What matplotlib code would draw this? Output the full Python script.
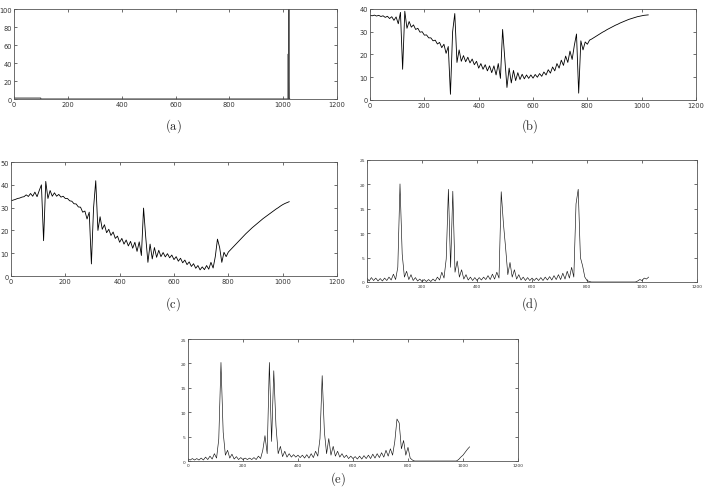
import numpy as np
import matplotlib
matplotlib.use('Agg')
import matplotlib.pyplot as plt

plt.rcParams['mathtext.fontset'] = 'cm'

# sample positions shared by the four signal panels (every 8th sample)
sample_x = np.arange(0, 1025, 8)

# (a) window + two spikes near the end
a_x = [0, 99, 100, 1018, 1019, 1020, 1021, 1022, 1023, 1024]
a_y = [1, 1, 0, 0, 50, 0, 100, 0, 0, 0]

# (b) values, one row = 64 samples
b_vals = [37.2, 37.0, 37.3, 36.9, 37.2, 36.7, 37.0, 36.3,
          36.8, 35.8, 36.6, 35.0, 36.5, 33.5, 38.5, 13.5,
          39.0, 31.5, 34.5, 32.0, 33.0, 31.0, 31.5, 29.8,
          30.0, 28.5, 28.6, 27.3, 27.3, 26.0, 26.3, 24.6,
          25.3, 23.0, 24.5, 20.5, 23.5, 2.5, 30.0, 38.0,
          16.5, 22.0, 17.0, 19.5, 16.8, 18.8, 16.3, 18.0,
          15.5, 17.0, 14.0, 16.0, 13.5, 15.5, 12.8, 15.0,
          12.0, 15.0, 11.0, 16.0, 9.5, 31.0, 18.0, 5.5,
          14.0, 7.5, 13.0, 8.5, 12.0, 9.0, 11.3, 9.3,
          11.0, 9.5, 11.0, 9.6, 11.2, 10.0, 11.6, 10.4,
          12.3, 11.0, 13.3, 11.8, 14.5, 12.8, 16.0, 14.0,
          17.5, 15.2, 19.3, 16.5, 21.5, 17.8, 24.0, 29.0,
          3.0, 26.0, 22.0, 25.5, 24.5, 26.3, 26.8, 27.4,
          28.0, 28.6, 29.2, 29.8, 30.3, 30.9, 31.4, 31.9,
          32.4, 32.9, 33.3, 33.8, 34.2, 34.6, 35.0, 35.4,
          35.7, 36.0, 36.3, 36.6, 36.8, 37.0, 37.2, 37.3,
          37.4]

# (c)
c_vals = [33.0, 33.3, 33.6, 34.0, 34.2, 34.6, 34.8, 35.6,
          34.9, 36.2, 35.0, 36.8, 34.8, 37.5, 40.0, 15.5,
          41.5, 34.0, 37.5, 35.0, 36.5, 35.0, 35.8, 34.6,
          35.0, 34.0, 34.0, 33.0, 32.8, 31.7, 31.6, 30.3,
          30.2, 28.0, 28.5, 25.0, 28.0, 5.3, 30.0, 41.8,
          20.0, 26.0, 20.5, 22.5, 19.0, 20.5, 17.8, 19.3,
          16.5, 17.5, 14.8, 16.5, 14.0, 15.8, 13.2, 15.2,
          12.2, 14.8, 10.8, 15.0, 9.0, 29.8, 17.0, 6.0,
          14.0, 7.5, 12.5, 8.2, 11.3, 8.5, 10.3, 8.4,
          9.8, 8.0, 9.2, 7.2, 8.5, 6.5, 7.8, 5.8,
          7.0, 5.0, 6.2, 4.2, 5.4, 3.4, 4.6, 2.7,
          4.0, 2.8, 4.6, 3.0, 6.0, 3.5, 8.5, 16.2,
          12.5, 6.0, 10.4, 8.5, 10.5, 11.5, 12.5, 13.5,
          14.5, 15.5, 16.5, 17.5, 18.5, 19.4, 20.3, 21.2,
          22.0, 22.8, 23.6, 24.4, 25.2, 25.9, 26.6, 27.3,
          28.0, 28.7, 29.4, 30.0, 30.7, 31.3, 31.8, 32.2,
          32.6]

# (d)
d_vals = [0.8, 0.2, 0.9, 0.3, 0.8, 0.2, 0.7, 0.2,
          0.8, 0.3, 1.0, 0.4, 1.6, 0.5, 3.0, 20.1,
          5.7, 1.0, 2.2, 0.5, 1.5, 0.3, 0.9, 0.2,
          0.6, 0.1, 0.5, 0.1, 0.5, 0.1, 0.6, 0.2,
          1.0, 0.4, 2.0, 0.8, 4.7, 19.0, 3.0, 18.6,
          2.0, 4.3, 1.0, 2.5, 0.6, 1.5, 0.4, 1.0,
          0.3, 0.9, 0.3, 0.9, 0.4, 1.0, 0.5, 1.3,
          0.5, 1.6, 0.6, 2.0, 0.8, 18.5, 12.0, 7.0,
          1.5, 4.0, 1.0, 2.5, 0.6, 1.5, 0.4, 1.0,
          0.3, 0.9, 0.3, 0.8, 0.3, 0.8, 0.3, 0.9,
          0.3, 1.0, 0.4, 1.1, 0.4, 1.3, 0.5, 1.5,
          0.5, 1.8, 0.6, 2.2, 0.8, 3.0, 1.0, 16.0,
          19.0, 5.0, 3.3, 1.0, 0.3, 0.1, 0.0, 0.0,
          0.0, 0.0, 0.0, 0.0, 0.0, 0.0, 0.0, 0.0,
          0.0, 0.0, 0.0, 0.0, 0.0, 0.0, 0.0, 0.0,
          0.0, 0.0, 0.0, 0.2, 0.5, 0.3, 0.8, 0.6,
          1.0]

# (e)
e_vals = [0.4, 0.2, 0.5, 0.2, 0.5, 0.2, 0.6, 0.2,
          0.8, 0.3, 1.0, 0.4, 1.5, 0.6, 4.5, 20.2,
          5.9, 1.2, 2.2, 0.6, 1.4, 0.4, 0.9, 0.3,
          0.7, 0.3, 0.6, 0.3, 0.6, 0.3, 0.7, 0.3,
          1.0, 0.5, 2.2, 5.2, 1.5, 20.2, 4.0, 18.5,
          7.2, 1.5, 3.0, 0.9, 2.0, 0.8, 1.5, 0.8,
          1.3, 0.8, 1.2, 0.7, 1.2, 0.6, 1.3, 0.6,
          1.5, 0.7, 2.0, 1.0, 4.6, 17.5, 6.0, 1.5,
          4.6, 1.2, 3.0, 1.0, 2.0, 0.8, 1.5, 0.7,
          1.2, 0.5, 1.0, 0.5, 0.9, 0.4, 1.0, 0.4,
          1.1, 0.5, 1.2, 0.5, 1.4, 0.6, 1.5, 0.7,
          1.7, 0.8, 2.2, 1.0, 2.5, 1.2, 4.0, 8.6,
          7.8, 2.5, 4.2, 1.2, 2.8, 0.6, 0.2, 0.0,
          0.0, 0.0, 0.0, 0.0, 0.0, 0.0, 0.0, 0.0,
          0.0, 0.0, 0.0, 0.0, 0.0, 0.0, 0.0, 0.0,
          0.0, 0.0, 0.0, 0.3, 0.8, 1.2, 1.8, 2.4,
          2.9]

TICK_FONT = ['Liberation Sans Narrow', 'DejaVu Sans']


def style_axes(ax, ymax, ystep, tick_size):
    # matlab-like box: ticks inside on all four sides
    ax.set_xlim(0, 1200)
    ax.set_ylim(0, ymax)
    ax.set_xticks(range(0, 1201, 200))
    ax.set_yticks(range(0, ymax + 1, ystep))
    ax.tick_params(direction='in', top=True, right=True, length=2.5,
                   width=0.5, labelsize=tick_size, pad=1.5, colors='#333333')
    for lab in ax.get_xticklabels() + ax.get_yticklabels():
        lab.set_family(TICK_FONT)
    for s in ax.spines.values():
        s.set_linewidth(0.6)
        s.set_color('#555555')


fig = plt.figure(figsize=(7.04, 4.89), dpi=100)

# axes placed by pixel position in the 704x489 picture
ax_a = fig.add_axes([0.0199, 0.7955, 0.4588, 0.1840])
ax_b = fig.add_axes([0.5256, 0.7935, 0.4631, 0.1861])
ax_c = fig.add_axes([0.0156, 0.4335, 0.4631, 0.2331])
ax_d = fig.add_axes([0.5213, 0.4213, 0.4688, 0.2495])
ax_e = fig.add_axes([0.2670, 0.0552, 0.4688, 0.2495])

ax_a.plot(a_x, a_y, color='#444444', linewidth=0.8)
style_axes(ax_a, 100, 20, 4.8)

ax_b.plot(sample_x, b_vals, color='k', linewidth=0.6)
style_axes(ax_b, 40, 10, 4.8)

ax_c.plot(sample_x, c_vals, color='k', linewidth=0.6)
style_axes(ax_c, 50, 10, 4.8)

ax_d.plot(sample_x, d_vals, color='#111111', linewidth=0.45)
style_axes(ax_d, 25, 5, 3.2)

ax_e.plot(sample_x, e_vals, color='#111111', linewidth=0.45)
style_axes(ax_e, 25, 5, 3.2)

# sub-figure captions
captions = [('(a)', 0.2457, 0.742, 'center'), ('(b)', 0.7528, 0.742, 'center'),
            ('(c)', 0.2457, 0.3783, 'center'), ('(d)', 0.7528, 0.3783, 'center'),
            ('(e)', 0.4800, 0.003, 'bottom')]
for txt, cx, cy, va in captions:
    fig.text(cx, cy, r'$\mathrm{' + txt + '}$', fontsize=9,
             ha='center', va=va, color='#222222')

fig.savefig('out.png', dpi=100)
